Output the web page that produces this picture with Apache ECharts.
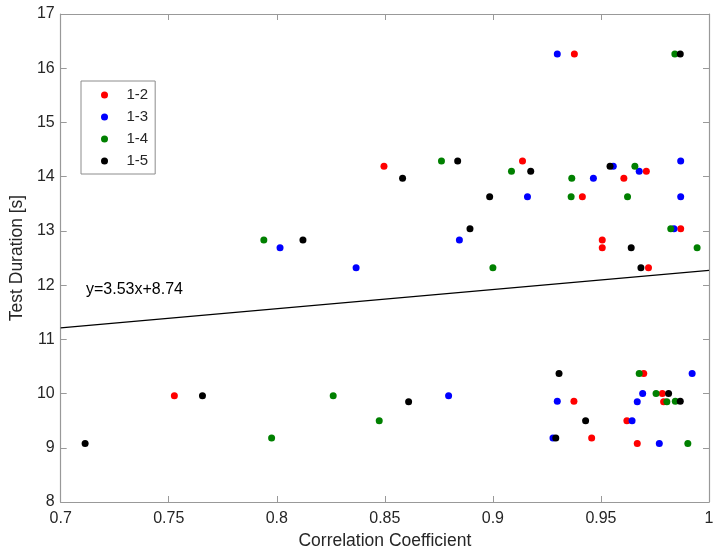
<!DOCTYPE html>
<html>
<head>
<meta charset="utf-8">
<script src="https://cdn.jsdelivr.net/npm/echarts@6/dist/echarts.min.js"></script>
<style>html,body{margin:0;padding:0;background:#fff}#c{width:727px;height:558px}</style>
</head>
<body>
<div id="c"></div>
<script>
// Data (correlation coefficient, test duration [s])
const seriesNames = ['1-2', '1-3', '1-4', '1-5'];
const pts12 = [[0.9377,16.26],[0.8496,14.19],[0.9137,14.29],[0.9414,13.63],[0.9606,13.97],[0.9710,14.10],[0.9869,13.04],[0.9506,12.83],[0.9506,12.69],[0.9720,12.32],[0.7526,9.96],[0.9375,9.86],[0.9457,9.18],[0.9620,9.50],[0.9668,9.08],[0.9698,10.37],[0.9784,10.00],[0.9790,9.85]];
const pts13 = [[0.9298,16.26],[0.8015,12.69],[0.8367,12.32],[0.8845,12.83],[0.9160,13.63],[0.9465,13.97],[0.9557,14.19],[0.9677,14.10],[0.9869,14.29],[0.9869,13.63],[0.9838,13.04],[0.8795,9.96],[0.9298,9.86],[0.9278,9.18],[0.9644,9.50],[0.9668,9.85],[0.9693,10.00],[0.9770,9.08],[0.9922,10.37]];
const pts14 = [[0.9842,16.26],[0.8762,14.29],[0.9086,14.10],[0.9365,13.97],[0.9362,13.63],[0.9623,13.63],[0.9657,14.19],[0.9823,13.04],[0.9945,12.69],[0.9000,12.32],[0.7940,12.83],[0.9677,10.37],[0.9755,10.00],[0.9805,9.85],[0.9844,9.86],[0.9902,9.08],[0.7976,9.18],[0.8261,9.96],[0.8474,9.50]];
const pts15 = [[0.9867,16.26],[0.8582,13.97],[0.8837,14.29],[0.8985,13.63],[0.8894,13.04],[0.9175,14.10],[0.9542,14.19],[0.9640,12.69],[0.9685,12.32],[0.8121,12.83],[0.8610,9.85],[0.9306,10.37],[0.9291,9.18],[0.9429,9.50],[0.9813,10.00],[0.9867,9.86],[0.7656,9.96],[0.7113,9.08]];
const fitSlope = 3.53;
const fitIntercept = 8.74;
const fitXRange = [0.7, 1.0];
const fitLabel = 'y=3.53x+8.74';
const colors = ['#ff0000', '#0000ff', '#008000', '#000000'];

const fitLine = fitXRange.map(x => [x, fitSlope * x + fitIntercept]);
const allPts = [pts12, pts13, pts14, pts15];

const FONT = '"Liberation Sans", Arial, Helvetica, sans-serif';
const TXT = '#262626';
const AX = '#999999';

const chart = echarts.init(document.getElementById('c'), null, {renderer: 'canvas'});
const fmt = v => String(+(+v).toFixed(2));

const scatterSeries = allPts.map((d, i) => ({
  name: seriesNames[i],
  type: 'scatter',
  data: d,
  symbol: 'circle',
  symbolSize: 7,
  itemStyle: {color: colors[i], opacity: 1},
  z: 3 + i
}));

chart.setOption({
  animation: false,
  backgroundColor: '#ffffff',
  grid: {left: 57, right: 18, top: 14, bottom: 56, containLabel: false},
  xAxis: [{
    type: 'value', min: 0.7, max: 1.0, interval: 0.05,
    name: 'Correlation Coefficient', nameLocation: 'middle', nameGap: 30,
    nameTextStyle: {fontFamily: FONT, fontSize: 17.5, color: TXT},
    axisLine: {show: true, lineStyle: {color: AX, width: 1.2}},
    axisTick: {show: true, inside: true, length: 6, lineStyle: {color: AX}},
    axisLabel: {fontFamily: FONT, fontSize: 16, color: TXT, margin: 9, formatter: fmt},
    splitLine: {show: false}
  }, {
    type: 'value', position: 'top', min: 0.7, max: 1.0, interval: 0.05,
    axisLine: {show: true, onZero: false, lineStyle: {color: AX, width: 1.2}},
    axisTick: {show: true, inside: true, length: 6, lineStyle: {color: AX}},
    axisLabel: {show: false}, splitLine: {show: false}
  }],
  yAxis: [{
    type: 'value', min: 8, max: 17, interval: 1,
    name: 'Test Duration [s]', nameLocation: 'middle', nameGap: 25,
    nameTextStyle: {fontFamily: FONT, fontSize: 17.5, color: TXT},
    axisLine: {show: true, lineStyle: {color: AX, width: 1.2}},
    axisTick: {show: true, inside: true, length: 6, lineStyle: {color: AX}},
    axisLabel: {fontFamily: FONT, fontSize: 16, color: TXT, margin: 6},
    splitLine: {show: false}
  }, {
    type: 'value', position: 'right', min: 8, max: 17, interval: 1,
    axisLine: {show: true, onZero: false, lineStyle: {color: AX, width: 1.2}},
    axisTick: {show: true, inside: true, length: 6, lineStyle: {color: AX}},
    axisLabel: {show: false}, splitLine: {show: false}
  }],
  legend: {
    orient: 'vertical',
    left: 81, top: 81,
    data: seriesNames,
    icon: 'circle',
    itemWidth: 34, itemHeight: 7, itemGap: 0,
    padding: [3, 7, 2, 20],
    borderColor: '#8c8c8c', borderWidth: 1, backgroundColor: '#ffffff',
    textStyle: {fontFamily: FONT, fontSize: 15, color: TXT, lineHeight: 22}
  },
  graphic: [{
    type: 'text', left: 86, top: 282, z: 10,
    style: {text: fitLabel, font: '16px ' + FONT, fill: '#000000'}
  }],
  series: [{
    name: 'fit', type: 'line', data: fitLine, symbol: 'none',
    lineStyle: {color: '#000000', width: 1.2}, z: 2, silent: true
  }].concat(scatterSeries)
});
</script>
</body>
</html>
